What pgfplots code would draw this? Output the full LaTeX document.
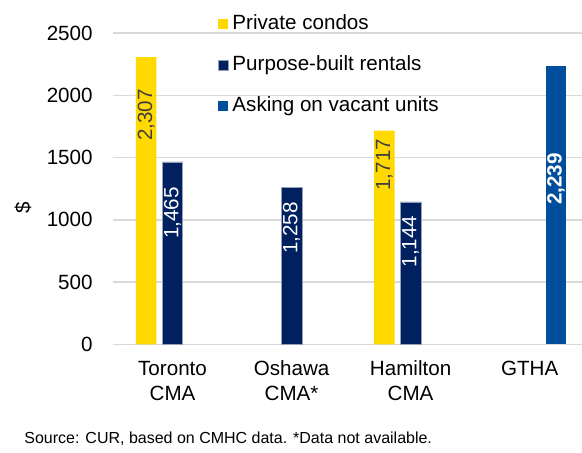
\documentclass[border=0pt]{standalone}
\usepackage{fontspec}
\setmainfont{Liberation Sans}
\usepackage{pgfplots}
\pgfplotsset{compat=1.18}
\definecolor{condo}{RGB}{255,217,0}
\definecolor{pbr}{RGB}{0,32,96}
\definecolor{ask}{RGB}{0,78,155}
\definecolor{gridgray}{RGB}{217,217,217}
\definecolor{lbl}{RGB}{64,64,64}
\newcommand{\chartfont}{\fontsize{10.3}{12.5}\selectfont}
\pgfplotsset{
    /pgfplots/ybar legend/.style={
        /pgfplots/legend image code/.code={\fill[##1] (0pt,-2.5pt) rectangle (5pt,2.5pt);}},
}

\begin{document}
\begin{tikzpicture}
% picture is 582 x 453 px, 1 px = 0.5pt
\useasboundingbox (0,0) rectangle (291pt,226.5pt);
\begin{axis}[
    at={(56.5pt,54.25pt)}, anchor=south west,
    scale only axis,
    width=234.5pt, height=155.75pt,
    ybar,
    bar width=10.25pt,
    xmin=-0.5, xmax=3.44,
    ymin=0, ymax=2500,
    xtick={0,1,2,3},
    xticklabels={Toronto\\CMA, Oshawa\\CMA*, Hamilton\\CMA, GTHA},
    ytick={0,500,...,2500},
    /pgf/number format/1000 sep={},
    /pgf/number format/assume math mode=true,
    major tick length=0pt,
    axis line style={draw=none},
    ymajorgrids,
    grid style={gridgray, line width=0.75pt},
    tick label style={font=\chartfont},
    xticklabel style={align=center, inner sep=0pt, yshift=-8pt},
    yticklabel style={inner sep=0pt, xshift=-10pt},
    ylabel={\$},
    ylabel style={at={(axis description cs:-0.192,0.438)}, anchor=center, font=\chartfont},
    clip=false,
    legend style={at={(axis description cs:0.21,1.085)}, anchor=north west,
        draw=none, fill=none, font=\chartfont, row sep=7.5pt,
        legend cell align=left},
]
\addplot[bar shift=-13.15pt, fill=condo, draw=none]
    coordinates {(0,2307) (2,1717)};
\addplot[bar shift=0pt, fill=pbr, draw={rgb,255:red,150;green,160;blue,185}, line width=0.3pt]
    coordinates {(0,1465) (1,1258) (2,1144)};
\addplot[bar shift=13.15pt, fill=ask, draw=none]
    coordinates {(3,2239)};
\legend{Private condos, Purpose-built rentals, Asking on vacant units}

% value labels, placed as in the source chart
\node[rotate=90, font=\chartfont, text=lbl] at (axis cs:-0.221,1842) {2,307};
\node[rotate=90, font=\chartfont, text=white] at (axis cs:0,1055) {1,465};
\node[rotate=90, font=\chartfont, text=white] at (axis cs:1,935) {1,258};
\node[rotate=90, font=\chartfont, text=lbl] at (axis cs:1.779,1443) {1,717};
\node[rotate=90, font=\chartfont, text=white] at (axis cs:2,827) {1,144};
\node[rotate=90, font=\chartfont\bfseries, text=white] at (axis cs:3.221,1328) {2,239};
\end{axis}
\node[anchor=west, inner sep=0pt, font=\fontsize{8}{9.5}\selectfont] at (12pt,7.2pt)
    {Source: CUR, based on CMHC data. *Data not available.};
\end{tikzpicture}
\end{document}
